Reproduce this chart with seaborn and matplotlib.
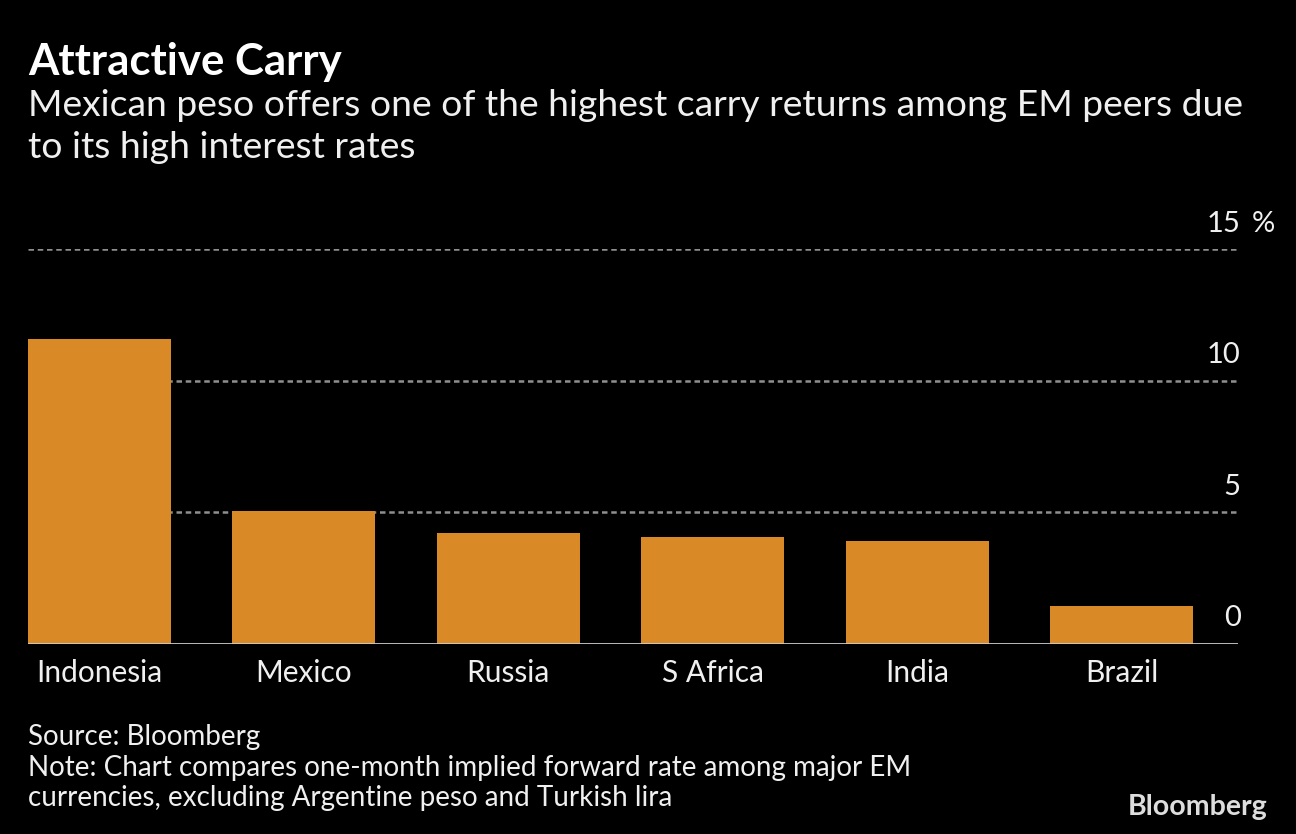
import numpy as np
import pandas as pd
import seaborn as sns
import matplotlib.pyplot as plt
from matplotlib import transforms

# values (percent)
countries = ["Indonesia", "Mexico", "Russia", "S Africa", "India", "Brazil"]
carry = [11.6, 5.05, 4.2, 4.05, 3.9, 1.45]
yticks = [0, 5, 10, 15]

bar_color = "#d98a26"
bg = "#000000"
txt = "#f0f0f0"

sns.set_theme(style="dark")
plt.rcParams["font.family"] = ["Lato", "DejaVu Sans"]

fig = plt.figure(figsize=(12.96, 8.34), dpi=100, facecolor=bg)
ax = fig.add_axes([28 / 1296, (834 - 644) / 834, 1210 / 1296, (644 - 249) / 834])
ax.set_facecolor(bg)

df = pd.DataFrame({"country": countries, "carry": carry})
sns.barplot(data=df, x="country", y="carry", color=bar_color, saturation=1,
            width=0.7, linewidth=0, edgecolor=bar_color, ax=ax, zorder=3)

ax.set_xlim(-0.35, 5.57)
ax.set_ylim(0, 15)

# dotted gridlines, solid baseline
for v in yticks[1:]:
    ax.axhline(v, color="#8f8f8f", lw=1.8, ls=(0, (2.2, 1.5)), zorder=1)
ax.axhline(0, color="#cccccc", lw=2, zorder=4)

for s in ax.spines.values():
    s.set_visible(False)
ax.set_yticks([])
ax.set_xlabel("")
ax.set_ylabel("")
ax.tick_params(axis="x", length=0, pad=11, labelsize=21.5, labelcolor=txt)

# value labels on the right, sitting above their gridlines
tr = transforms.blended_transform_factory(ax.transAxes, ax.transData)
off = transforms.ScaledTranslation(2 / 72, 9 / 72, fig.dpi_scale_trans)
for v in yticks:
    ax.text(1.0, v, str(v), transform=tr + off, ha="right", va="bottom",
            fontsize=21, color=txt)
ax.text(1.0, 15, "%", transform=tr + transforms.ScaledTranslation(10 / 72, 9 / 72, fig.dpi_scale_trans),
        ha="left", va="bottom", fontsize=21, color=txt)

# titles and footer
fig.text(28 / 1296, 1 - 62 / 834, "Attractive Carry", fontsize=31.5, fontweight="bold",
         color="white", va="center", ha="left")
fig.text(28 / 1296, 1 - 105 / 834, "Mexican peso offers one of the highest carry returns among EM peers due",
         fontsize=26.8, color=txt, va="center", ha="left")
fig.text(28 / 1296, 1 - 147 / 834, "to its high interest rates",
         fontsize=26.8, color=txt, va="center", ha="left")

fig.text(28 / 1296, 1 - 737 / 834, "Source: Bloomberg", fontsize=20, color=txt, va="center")
fig.text(28 / 1296, 1 - 768 / 834, "Note: Chart compares one-month implied forward rate among major EM",
         fontsize=20, color=txt, va="center")
fig.text(28 / 1296, 1 - 798 / 834, "currencies, excluding Argentine peso and Turkish lira",
         fontsize=20, color=txt, va="center")
fig.text(1268 / 1296, 1 - 807 / 834, "Bloomberg", fontsize=20.5, fontweight="bold",
         color="#dddddd", ha="right", va="center")

fig.savefig("out.png", dpi=100, facecolor=bg)
